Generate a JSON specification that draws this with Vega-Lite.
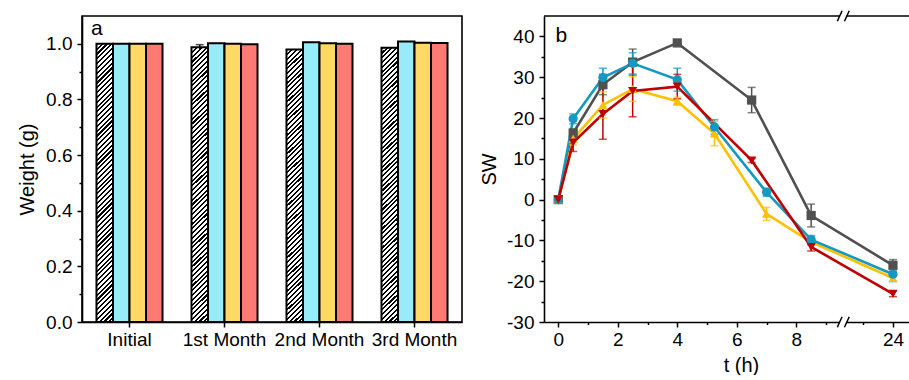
{
  "$schema": "https://vega.github.io/schema/vega-lite/v6.json",
  "padding": {"left": 16, "top": 9, "right": 0, "bottom": 0},
  "spacing": 16,
  "config": {
    "font": "Liberation Sans",
    "view": {"stroke": "#000", "strokeWidth": 1.6},
    "axis": {
      "domainColor": "#000", "domainWidth": 1.6, "tickColor": "#000", "tickWidth": 1.5, "tickSize": 5,
      "labelColor": "#000", "titleColor": "#000", "labelFont": "Liberation Sans", "titleFont": "Liberation Sans",
      "labelFontSize": 19, "titleFontSize": 20, "titleFontWeight": "normal", "grid": false, "labelPadding": 5, "titlePadding": 8,
      "labelOverlap": false
    }
  },
  "hconcat": [
    {
      "width": 380,
      "height": 306,
      "data": {"values": [
        {"period": "Initial", "s": "control", "w": 1.0},
        {"period": "Initial", "s": "s1", "w": 1.0},
        {"period": "Initial", "s": "s2", "w": 1.0},
        {"period": "Initial", "s": "s3", "w": 1.0},
        {"period": "1st Month", "s": "control", "w": 0.988, "lo": 0.981, "hi": 0.997},
        {"period": "1st Month", "s": "s1", "w": 1.002},
        {"period": "1st Month", "s": "s2", "w": 1.0},
        {"period": "1st Month", "s": "s3", "w": 0.998},
        {"period": "2nd Month", "s": "control", "w": 0.98},
        {"period": "2nd Month", "s": "s1", "w": 1.006},
        {"period": "2nd Month", "s": "s2", "w": 1.002},
        {"period": "2nd Month", "s": "s3", "w": 1.0},
        {"period": "3rd Month", "s": "control", "w": 0.986},
        {"period": "3rd Month", "s": "s1", "w": 1.008},
        {"period": "3rd Month", "s": "s2", "w": 1.004},
        {"period": "3rd Month", "s": "s3", "w": 1.003}
      ]},
      "layer": [
        {
          "transform": [{"filter": "datum.s == 'control'"}],
          "mark": {"type": "bar", "stroke": "#000", "strokeWidth": 2,
            "fill": {"gradient": "linear", "x1": 0, "y1": 0, "x2": 0.064, "y2": 1.08, "stops": [
              {"offset":0,"color":"#000"},{"offset":0.007,"color":"#000"},{"offset":0.007,"color":"#fff"},{"offset":0.016,"color":"#fff"},
              {"offset":0.016,"color":"#000"},{"offset":0.023,"color":"#000"},{"offset":0.023,"color":"#fff"},{"offset":0.032,"color":"#fff"},
              {"offset":0.032,"color":"#000"},{"offset":0.039,"color":"#000"},{"offset":0.039,"color":"#fff"},{"offset":0.048,"color":"#fff"},
              {"offset":0.048,"color":"#000"},{"offset":0.055,"color":"#000"},{"offset":0.055,"color":"#fff"},{"offset":0.064,"color":"#fff"},
              {"offset":0.064,"color":"#000"},{"offset":0.071,"color":"#000"},{"offset":0.071,"color":"#fff"},{"offset":0.08,"color":"#fff"},
              {"offset":0.08,"color":"#000"},{"offset":0.087,"color":"#000"},{"offset":0.087,"color":"#fff"},{"offset":0.096,"color":"#fff"},
              {"offset":0.096,"color":"#000"},{"offset":0.103,"color":"#000"},{"offset":0.103,"color":"#fff"},{"offset":0.112,"color":"#fff"},
              {"offset":0.112,"color":"#000"},{"offset":0.119,"color":"#000"},{"offset":0.119,"color":"#fff"},{"offset":0.128,"color":"#fff"},
              {"offset":0.128,"color":"#000"},{"offset":0.135,"color":"#000"},{"offset":0.135,"color":"#fff"},{"offset":0.144,"color":"#fff"},
              {"offset":0.144,"color":"#000"},{"offset":0.151,"color":"#000"},{"offset":0.151,"color":"#fff"},{"offset":0.16,"color":"#fff"},
              {"offset":0.16,"color":"#000"},{"offset":0.167,"color":"#000"},{"offset":0.167,"color":"#fff"},{"offset":0.176,"color":"#fff"},
              {"offset":0.176,"color":"#000"},{"offset":0.183,"color":"#000"},{"offset":0.183,"color":"#fff"},{"offset":0.192,"color":"#fff"},
              {"offset":0.192,"color":"#000"},{"offset":0.199,"color":"#000"},{"offset":0.199,"color":"#fff"},{"offset":0.208,"color":"#fff"},
              {"offset":0.208,"color":"#000"},{"offset":0.215,"color":"#000"},{"offset":0.215,"color":"#fff"},{"offset":0.224,"color":"#fff"},
              {"offset":0.224,"color":"#000"},{"offset":0.231,"color":"#000"},{"offset":0.231,"color":"#fff"},{"offset":0.24,"color":"#fff"},
              {"offset":0.24,"color":"#000"},{"offset":0.247,"color":"#000"},{"offset":0.247,"color":"#fff"},{"offset":0.256,"color":"#fff"},
              {"offset":0.256,"color":"#000"},{"offset":0.263,"color":"#000"},{"offset":0.263,"color":"#fff"},{"offset":0.272,"color":"#fff"},
              {"offset":0.272,"color":"#000"},{"offset":0.279,"color":"#000"},{"offset":0.279,"color":"#fff"},{"offset":0.288,"color":"#fff"},
              {"offset":0.288,"color":"#000"},{"offset":0.295,"color":"#000"},{"offset":0.295,"color":"#fff"},{"offset":0.304,"color":"#fff"},
              {"offset":0.304,"color":"#000"},{"offset":0.311,"color":"#000"},{"offset":0.311,"color":"#fff"},{"offset":0.32,"color":"#fff"},
              {"offset":0.32,"color":"#000"},{"offset":0.327,"color":"#000"},{"offset":0.327,"color":"#fff"},{"offset":0.336,"color":"#fff"},
              {"offset":0.336,"color":"#000"},{"offset":0.343,"color":"#000"},{"offset":0.343,"color":"#fff"},{"offset":0.352,"color":"#fff"},
              {"offset":0.352,"color":"#000"},{"offset":0.359,"color":"#000"},{"offset":0.359,"color":"#fff"},{"offset":0.368,"color":"#fff"},
              {"offset":0.368,"color":"#000"},{"offset":0.375,"color":"#000"},{"offset":0.375,"color":"#fff"},{"offset":0.384,"color":"#fff"},
              {"offset":0.384,"color":"#000"},{"offset":0.391,"color":"#000"},{"offset":0.391,"color":"#fff"},{"offset":0.4,"color":"#fff"},
              {"offset":0.4,"color":"#000"},{"offset":0.407,"color":"#000"},{"offset":0.407,"color":"#fff"},{"offset":0.416,"color":"#fff"},
              {"offset":0.416,"color":"#000"},{"offset":0.423,"color":"#000"},{"offset":0.423,"color":"#fff"},{"offset":0.432,"color":"#fff"},
              {"offset":0.432,"color":"#000"},{"offset":0.439,"color":"#000"},{"offset":0.439,"color":"#fff"},{"offset":0.448,"color":"#fff"},
              {"offset":0.448,"color":"#000"},{"offset":0.455,"color":"#000"},{"offset":0.455,"color":"#fff"},{"offset":0.464,"color":"#fff"},
              {"offset":0.464,"color":"#000"},{"offset":0.471,"color":"#000"},{"offset":0.471,"color":"#fff"},{"offset":0.48,"color":"#fff"},
              {"offset":0.48,"color":"#000"},{"offset":0.487,"color":"#000"},{"offset":0.487,"color":"#fff"},{"offset":0.496,"color":"#fff"},
              {"offset":0.496,"color":"#000"},{"offset":0.503,"color":"#000"},{"offset":0.503,"color":"#fff"},{"offset":0.512,"color":"#fff"},
              {"offset":0.512,"color":"#000"},{"offset":0.519,"color":"#000"},{"offset":0.519,"color":"#fff"},{"offset":0.528,"color":"#fff"},
              {"offset":0.528,"color":"#000"},{"offset":0.535,"color":"#000"},{"offset":0.535,"color":"#fff"},{"offset":0.544,"color":"#fff"},
              {"offset":0.544,"color":"#000"},{"offset":0.551,"color":"#000"},{"offset":0.551,"color":"#fff"},{"offset":0.56,"color":"#fff"},
              {"offset":0.56,"color":"#000"},{"offset":0.567,"color":"#000"},{"offset":0.567,"color":"#fff"},{"offset":0.576,"color":"#fff"},
              {"offset":0.576,"color":"#000"},{"offset":0.583,"color":"#000"},{"offset":0.583,"color":"#fff"},{"offset":0.592,"color":"#fff"},
              {"offset":0.592,"color":"#000"},{"offset":0.599,"color":"#000"},{"offset":0.599,"color":"#fff"},{"offset":0.608,"color":"#fff"},
              {"offset":0.608,"color":"#000"},{"offset":0.615,"color":"#000"},{"offset":0.615,"color":"#fff"},{"offset":0.624,"color":"#fff"},
              {"offset":0.624,"color":"#000"},{"offset":0.631,"color":"#000"},{"offset":0.631,"color":"#fff"},{"offset":0.64,"color":"#fff"},
              {"offset":0.64,"color":"#000"},{"offset":0.647,"color":"#000"},{"offset":0.647,"color":"#fff"},{"offset":0.656,"color":"#fff"},
              {"offset":0.656,"color":"#000"},{"offset":0.663,"color":"#000"},{"offset":0.663,"color":"#fff"},{"offset":0.672,"color":"#fff"},
              {"offset":0.672,"color":"#000"},{"offset":0.679,"color":"#000"},{"offset":0.679,"color":"#fff"},{"offset":0.688,"color":"#fff"},
              {"offset":0.688,"color":"#000"},{"offset":0.695,"color":"#000"},{"offset":0.695,"color":"#fff"},{"offset":0.704,"color":"#fff"},
              {"offset":0.704,"color":"#000"},{"offset":0.711,"color":"#000"},{"offset":0.711,"color":"#fff"},{"offset":0.72,"color":"#fff"},
              {"offset":0.72,"color":"#000"},{"offset":0.727,"color":"#000"},{"offset":0.727,"color":"#fff"},{"offset":0.736,"color":"#fff"},
              {"offset":0.736,"color":"#000"},{"offset":0.743,"color":"#000"},{"offset":0.743,"color":"#fff"},{"offset":0.752,"color":"#fff"},
              {"offset":0.752,"color":"#000"},{"offset":0.759,"color":"#000"},{"offset":0.759,"color":"#fff"},{"offset":0.768,"color":"#fff"},
              {"offset":0.768,"color":"#000"},{"offset":0.775,"color":"#000"},{"offset":0.775,"color":"#fff"},{"offset":0.784,"color":"#fff"},
              {"offset":0.784,"color":"#000"},{"offset":0.791,"color":"#000"},{"offset":0.791,"color":"#fff"},{"offset":0.8,"color":"#fff"},
              {"offset":0.8,"color":"#000"},{"offset":0.807,"color":"#000"},{"offset":0.807,"color":"#fff"},{"offset":0.816,"color":"#fff"},
              {"offset":0.816,"color":"#000"},{"offset":0.823,"color":"#000"},{"offset":0.823,"color":"#fff"},{"offset":0.832,"color":"#fff"},
              {"offset":0.832,"color":"#000"},{"offset":0.839,"color":"#000"},{"offset":0.839,"color":"#fff"},{"offset":0.848,"color":"#fff"},
              {"offset":0.848,"color":"#000"},{"offset":0.855,"color":"#000"},{"offset":0.855,"color":"#fff"},{"offset":0.864,"color":"#fff"},
              {"offset":0.864,"color":"#000"},{"offset":0.871,"color":"#000"},{"offset":0.871,"color":"#fff"},{"offset":0.88,"color":"#fff"},
              {"offset":0.88,"color":"#000"},{"offset":0.887,"color":"#000"},{"offset":0.887,"color":"#fff"},{"offset":0.896,"color":"#fff"},
              {"offset":0.896,"color":"#000"},{"offset":0.903,"color":"#000"},{"offset":0.903,"color":"#fff"},{"offset":0.912,"color":"#fff"},
              {"offset":0.912,"color":"#000"},{"offset":0.919,"color":"#000"},{"offset":0.919,"color":"#fff"},{"offset":0.928,"color":"#fff"},
              {"offset":0.928,"color":"#000"},{"offset":0.935,"color":"#000"},{"offset":0.935,"color":"#fff"},{"offset":0.944,"color":"#fff"},
              {"offset":0.944,"color":"#000"},{"offset":0.951,"color":"#000"},{"offset":0.951,"color":"#fff"},{"offset":0.96,"color":"#fff"},
              {"offset":0.96,"color":"#000"},{"offset":0.967,"color":"#000"},{"offset":0.967,"color":"#fff"},{"offset":0.976,"color":"#fff"},
              {"offset":0.976,"color":"#000"},{"offset":0.983,"color":"#000"},{"offset":0.983,"color":"#fff"},{"offset":0.992,"color":"#fff"},
              {"offset":0.992,"color":"#000"},{"offset":0.999,"color":"#000"},{"offset":0.999,"color":"#fff"},{"offset":1,"color":"#fff"}
            ]}
          },
          "encoding": {
            "x": {"field": "period", "type": "nominal", "sort": ["Initial", "1st Month", "2nd Month", "3rd Month"],
              "scale": {"paddingInner": 0.305, "paddingOuter": 0.1525},
              "axis": {"title": null, "labelAngle": 0, "labelPadding": 3}},
            "xOffset": {"field": "s", "type": "nominal", "scale": {"domain": ["control", "s1", "s2", "s3"], "paddingInner": 0, "paddingOuter": 0}},
            "y": {"field": "w", "type": "quantitative", "scale": {"domain": [0, 1.1], "nice": false},
              "axis": {"title": "Weight (g)", "tickCount": 40, "values": [0, 0.1, 0.2, 0.3, 0.4, 0.5, 0.6, 0.7, 0.8, 0.9, 1.0],
                "labelExpr": "round(datum.value*10) % 2 == 0 ? format(datum.value, '.1f') : ''",
                "tickSize": {"condition": {"test": "round(datum.value*10) % 2 == 1", "value": 3}, "value": 5}}}
          }
        },
        {
          "transform": [{"filter": "datum.s != 'control'"}],
          "mark": {"type": "bar", "stroke": "#000", "strokeWidth": 2},
          "encoding": {
            "x": {"field": "period", "type": "nominal", "sort": ["Initial", "1st Month", "2nd Month", "3rd Month"]},
            "xOffset": {"field": "s", "type": "nominal"},
            "y": {"field": "w", "type": "quantitative"},
            "fill": {"field": "s", "type": "nominal", "scale": {"domain": ["s1", "s2", "s3"], "range": ["#98ecfa", "#ffd966", "#ff7a72"]}, "legend": null}
          }
        },
        {
          "transform": [{"filter": "datum.lo != null"}],
          "mark": {"type": "rule", "color": "#000", "strokeWidth": 1.5},
          "encoding": {
            "x": {"field": "period", "type": "nominal", "sort": ["Initial", "1st Month", "2nd Month", "3rd Month"], "bandPosition": 0},
            "xOffset": {"field": "s", "type": "nominal"},
            "y": {"field": "lo", "type": "quantitative"},
            "y2": {"field": "hi"}
          }
        },
        {
          "transform": [{"filter": "datum.lo != null"}],
          "mark": {"type": "tick", "orient": "horizontal", "color": "#000", "size": 8, "thickness": 1.5},
          "encoding": {
            "x": {"field": "period", "type": "nominal", "sort": ["Initial", "1st Month", "2nd Month", "3rd Month"]},
            "xOffset": {"field": "s", "type": "nominal"},
            "y": {"field": "hi", "type": "quantitative"}
          }
        },
        {
          "data": {"values": [{}]},
          "mark": {"type": "text", "text": "a", "fontSize": 21, "align": "center", "baseline": "middle", "dx": -8, "color": "#000"},
          "encoding": {
            "x": {"datum": "Initial", "type": "nominal"},
            "xOffset": {"datum": "control", "type": "nominal"},
            "y": {"datum": 1.054, "type": "quantitative"}
          }
        }
      ]
    },
    {
      "width": 368,
      "height": 306,
      "view": {"stroke": null},
      "layer": [
        {
          "data": {"name": "sw", "values": [
            {"s": "g", "t": 0, "v": 0, "lo": 0, "hi": 0},
            {"s": "g", "t": 0.5, "v": 16.3, "lo": 15.3, "hi": 17.3},
            {"s": "g", "t": 1.5, "v": 28.2, "lo": 25.7, "hi": 30.7},
            {"s": "g", "t": 2.5, "v": 33.7, "lo": 30.5, "hi": 36.9},
            {"s": "g", "t": 4, "v": 38.4, "lo": 37.9, "hi": 38.9},
            {"s": "g", "t": 6.5, "v": 24.4, "lo": 21.3, "hi": 27.5},
            {"s": "g", "t": 8.5, "v": -3.9, "lo": -6.7, "hi": -1.1},
            {"s": "g", "t": 24, "v": -16.1, "lo": -17.5, "hi": -14.7},
            {"s": "yl", "t": 0, "v": 0, "lo": 0, "hi": 0},
            {"s": "yl", "t": 0.5, "v": 14.9, "lo": 13.4, "hi": 16.4},
            {"s": "yl", "t": 1.5, "v": 23.2, "lo": 20.0, "hi": 26.4},
            {"s": "yl", "t": 2.5, "v": 27.1, "lo": 24.1, "hi": 30.1},
            {"s": "yl", "t": 4, "v": 24.1, "lo": 23.1, "hi": 25.1},
            {"s": "yl", "t": 5.25, "v": 16.2, "lo": 13.2, "hi": 19.2},
            {"s": "yl", "t": 7, "v": -3.5, "lo": -5.1, "hi": -1.9},
            {"s": "yl", "t": 8.5, "v": -10.4, "lo": -11.2, "hi": -9.6},
            {"s": "yl", "t": 24, "v": -19.2, "lo": -20.0, "hi": -18.4},
            {"s": "c", "t": 0, "v": 0, "lo": 0, "hi": 0},
            {"s": "c", "t": 0.5, "v": 19.8, "lo": 18.6, "hi": 21.0},
            {"s": "c", "t": 1.5, "v": 29.9, "lo": 27.6, "hi": 32.2},
            {"s": "c", "t": 2.5, "v": 33.4, "lo": 30.8, "hi": 36.0},
            {"s": "c", "t": 4, "v": 29.4, "lo": 26.6, "hi": 32.2},
            {"s": "c", "t": 5.25, "v": 17.8, "lo": 16.0, "hi": 19.6},
            {"s": "c", "t": 7, "v": 1.8, "lo": 0.8, "hi": 2.8},
            {"s": "c", "t": 8.5, "v": -9.8, "lo": -10.8, "hi": -8.8},
            {"s": "c", "t": 24, "v": -18.3, "lo": -20.1, "hi": -16.5},
            {"s": "r", "t": 0, "v": 0, "lo": 0, "hi": 0},
            {"s": "r", "t": 0.5, "v": 14.0, "lo": 11.8, "hi": 16.2},
            {"s": "r", "t": 1.5, "v": 21.0, "lo": 14.8, "hi": 27.2},
            {"s": "r", "t": 2.5, "v": 26.6, "lo": 20.3, "hi": 32.9},
            {"s": "r", "t": 4, "v": 27.7, "lo": 24.7, "hi": 30.7},
            {"s": "r", "t": 6.5, "v": 9.6, "lo": 9.1, "hi": 10.1},
            {"s": "r", "t": 8.5, "v": -11.6, "lo": -12.6, "hi": -10.6},
            {"s": "r", "t": 24, "v": -23.1, "lo": -23.8, "hi": -22.4}
          ]},
          "transform": [{"calculate": "datum.t > 20 ? datum.t - 12.75 : datum.t", "as": "p"}],
          "layer": [
            {
              "mark": {"type": "line", "strokeWidth": 2.6},
              "encoding": {
                "x": {"field": "p", "type": "quantitative", "scale": {"domain": [-0.48, 11.89], "nice": false, "zero": false},
                  "axis": {"title": "t (h)", "titlePadding": 6, "labelPadding": 3, "titleX": 197, "tickCount": 40,
                    "values": [0, 1, 2, 3, 4, 5, 6, 7, 8, 9, 10.25, 11.25],
                    "labelExpr": "datum.value == 11.25 ? '24' : (datum.value % 2 == 0 ? '' + datum.value : '')",
                    "tickSize": {"condition": {"test": "datum.value % 2 != 0 && datum.value != 11.25", "value": 2.5}, "value": 5}}},
                "y": {"field": "v", "type": "quantitative", "scale": {"domain": [-30, 45], "nice": false},
                  "axis": {"title": "SW", "titlePadding": 7, "tickCount": 40, "values": [-30, -25, -20, -15, -10, -5, 0, 5, 10, 15, 20, 25, 30, 35, 40],
                    "labelExpr": "datum.value % 10 == 0 ? (datum.value < 0 ? '-' + abs(datum.value) : '' + datum.value) : ''",
                    "tickSize": {"condition": {"test": "datum.value % 10 != 0", "value": 3}, "value": 5}}},
                "color": {"field": "s", "type": "nominal", "scale": {"domain": ["g", "yl", "c", "r"], "range": ["#505050", "#ffc000", "#1499c0", "#c00000"]}, "legend": null}
              }
            },
            {
              "mark": {"type": "rule", "strokeWidth": 1.5},
              "encoding": {
                "x": {"field": "p", "type": "quantitative"},
                "y": {"field": "lo", "type": "quantitative"},
                "y2": {"field": "hi"},
                "color": {"field": "s", "type": "nominal", "legend": null}
              }
            },
            {
              "mark": {"type": "tick", "orient": "horizontal", "size": 8, "thickness": 1.5},
              "encoding": {
                "x": {"field": "p", "type": "quantitative"},
                "y": {"field": "lo", "type": "quantitative"},
                "color": {"field": "s", "type": "nominal", "legend": null}
              }
            },
            {
              "mark": {"type": "tick", "orient": "horizontal", "size": 8, "thickness": 1.5},
              "encoding": {
                "x": {"field": "p", "type": "quantitative"},
                "y": {"field": "hi", "type": "quantitative"},
                "color": {"field": "s", "type": "nominal", "legend": null}
              }
            },
            {
              "mark": {"type": "point", "filled": true, "opacity": 1, "size": 85},
              "encoding": {
                "x": {"field": "p", "type": "quantitative"},
                "y": {"field": "v", "type": "quantitative"},
                "color": {"field": "s", "type": "nominal", "legend": null},
                "shape": {"field": "s", "type": "nominal", "scale": {"domain": ["g", "yl", "c", "r"], "range": ["square", "triangle-up", "circle", "triangle-down"]}, "legend": null}
              }
            }
          ]
        },
        {
          "data": {"values": [{}]},
          "mark": {"type": "rule", "color": "#000", "strokeWidth": 1.6},
          "encoding": {"y": {"datum": 45, "type": "quantitative"}}
        },
        {
          "data": {"values": [{}]},
          "mark": {"type": "rect", "fill": "#fff"},
          "encoding": {
            "x": {"datum": 9.47, "type": "quantitative"}, "x2": {"datum": 9.69},
            "y": {"datum": -31.3, "type": "quantitative"}, "y2": {"datum": -28.7}
          }
        },
        {
          "data": {"values": [{}]},
          "mark": {"type": "rect", "fill": "#fff"},
          "encoding": {
            "x": {"datum": 9.47, "type": "quantitative"}, "x2": {"datum": 9.69},
            "y": {"datum": 43.7, "type": "quantitative"}, "y2": {"datum": 46.3}
          }
        },
        {
          "data": {"values": [{}]},
          "mark": {"type": "rule", "color": "#000", "strokeWidth": 1.5},
          "encoding": {
            "x": {"datum": 9.38, "type": "quantitative"}, "x2": {"datum": 9.54},
            "y": {"datum": -31.3, "type": "quantitative"}, "y2": {"datum": -28.7}
          }
        },
        {
          "data": {"values": [{}]},
          "mark": {"type": "rule", "color": "#000", "strokeWidth": 1.5},
          "encoding": {
            "x": {"datum": 9.62, "type": "quantitative"}, "x2": {"datum": 9.78},
            "y": {"datum": -31.3, "type": "quantitative"}, "y2": {"datum": -28.7}
          }
        },
        {
          "data": {"values": [{}]},
          "mark": {"type": "rule", "color": "#000", "strokeWidth": 1.5},
          "encoding": {
            "x": {"datum": 9.38, "type": "quantitative"}, "x2": {"datum": 9.54},
            "y": {"datum": 43.7, "type": "quantitative"}, "y2": {"datum": 46.3}
          }
        },
        {
          "data": {"values": [{}]},
          "mark": {"type": "rule", "color": "#000", "strokeWidth": 1.5},
          "encoding": {
            "x": {"datum": 9.62, "type": "quantitative"}, "x2": {"datum": 9.78},
            "y": {"datum": 43.7, "type": "quantitative"}, "y2": {"datum": 46.3}
          }
        },
        {
          "data": {"values": [{}]},
          "mark": {"type": "text", "text": "b", "fontSize": 21, "align": "center", "baseline": "middle", "color": "#000"},
          "encoding": {
            "x": {"datum": 0.1, "type": "quantitative"},
            "y": {"datum": 40, "type": "quantitative"}
          }
        }
      ]
    }
  ]
}
